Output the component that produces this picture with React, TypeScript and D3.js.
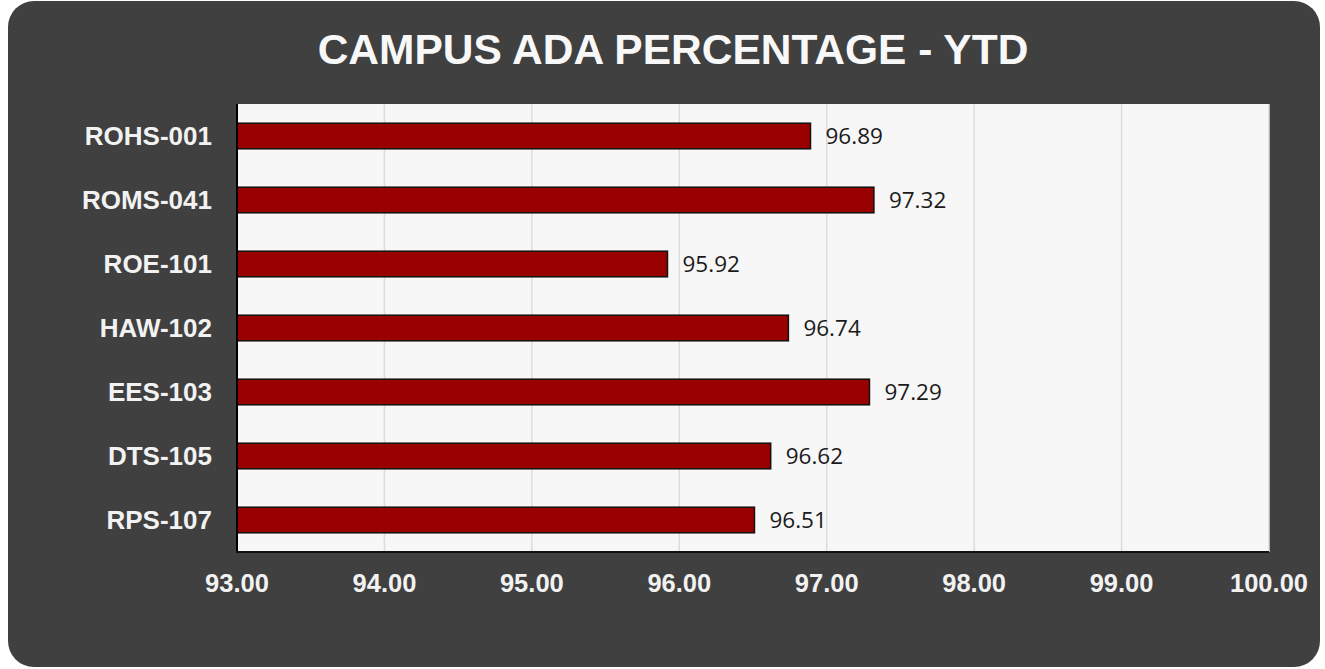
import React, { useRef, useEffect } from 'react';
import * as d3 from 'd3';

const campuses = ['ROHS-001', 'ROMS-041', 'ROE-101', 'HAW-102', 'EES-103', 'DTS-105', 'RPS-107'];
const adaValues = [96.89, 97.32, 95.92, 96.74, 97.29, 96.62, 96.51];
const xTicks = [93, 94, 95, 96, 97, 98, 99, 100];

const App = () => {
  const svgRef = useRef<SVGSVGElement>(null);

  useEffect(() => {
    const W = 1325;
    const H = 669;
    const plot = { left: 237, right: 1269, top: 104, bottom: 552 };

    const svg = d3.select(svgRef.current);
    svg.selectAll('*').remove();
    svg.attr('width', W).attr('height', H);

    // card background
    svg.append('rect')
      .attr('x', 8)
      .attr('y', 1)
      .attr('width', 1312)
      .attr('height', 666)
      .attr('rx', 26)
      .attr('fill', '#404040');

    // title
    svg.append('text')
      .attr('x', 673)
      .attr('y', 64)
      .attr('text-anchor', 'middle')
      .style('font-family', '"Liberation Sans", Arial, sans-serif')
      .style('font-size', '42.5px')
      .style('font-weight', 'bold')
      .style('fill', '#f8f8f8')
      .text('CAMPUS ADA PERCENTAGE - YTD');

    const x = d3.scaleLinear()
      .domain([93, 100])
      .range([plot.left, plot.right]);

    const y = d3.scaleBand()
      .domain(campuses)
      .range([plot.top, plot.bottom])
      .paddingInner(0.6)
      .paddingOuter(0.3);

    // plot area
    svg.append('rect')
      .attr('x', plot.left)
      .attr('y', plot.top)
      .attr('width', plot.right - plot.left)
      .attr('height', plot.bottom - plot.top)
      .attr('fill', '#f7f7f7');

    // gridlines
    svg.append('g')
      .selectAll('line')
      .data(xTicks.slice(1))
      .enter()
      .append('line')
      .attr('x1', d => x(d))
      .attr('x2', d => x(d))
      .attr('y1', plot.top)
      .attr('y2', plot.bottom)
      .attr('stroke', '#dcdcdc')
      .attr('stroke-width', 1.5);

    // bars
    svg.append('g')
      .selectAll('rect')
      .data(campuses)
      .enter()
      .append('rect')
      .attr('x', x(93))
      .attr('y', d => y(d)!)
      .attr('width', (d, i) => x(adaValues[i]) - x(93))
      .attr('height', y.bandwidth())
      .attr('fill', '#990000')
      .attr('stroke', '#111')
      .attr('stroke-width', 1.5);

    // value labels
    svg.append('g')
      .selectAll('text')
      .data(campuses)
      .enter()
      .append('text')
      .attr('x', (d, i) => x(adaValues[i]) + 15)
      .attr('y', d => y(d)! + y.bandwidth() / 2)
      .attr('dy', '0.36em')
      .style('font-family', '"Open Sans", sans-serif')
      .style('font-size', '22.5px')
      .style('fill', '#1a1a1a')
      .text((d, i) => adaValues[i].toFixed(2));

    // axis lines
    svg.append('line')
      .attr('x1', plot.left)
      .attr('x2', plot.left)
      .attr('y1', plot.top)
      .attr('y2', plot.bottom)
      .attr('stroke', '#000')
      .attr('stroke-width', 2);

    svg.append('line')
      .attr('x1', plot.left - 1)
      .attr('x2', plot.right)
      .attr('y1', plot.bottom)
      .attr('y2', plot.bottom)
      .attr('stroke', '#111')
      .attr('stroke-width', 2);

    // category labels
    svg.append('g')
      .selectAll('text')
      .data(campuses)
      .enter()
      .append('text')
      .attr('x', plot.left - 25)
      .attr('y', d => y(d)! + y.bandwidth() / 2)
      .attr('dy', '0.36em')
      .attr('text-anchor', 'end')
      .style('font-family', '"Liberation Sans", Arial, sans-serif')
      .style('font-size', '26px')
      .style('font-weight', 'bold')
      .style('fill', '#f2f2f2')
      .text(d => d);

    // x tick labels
    svg.append('g')
      .selectAll('text')
      .data(xTicks)
      .enter()
      .append('text')
      .attr('x', d => x(d))
      .attr('y', 592)
      .attr('text-anchor', 'middle')
      .style('font-family', '"Liberation Sans", Arial, sans-serif')
      .style('font-size', '25.5px')
      .style('font-weight', 'bold')
      .style('fill', '#f2f2f2')
      .text(d => d.toFixed(2));
  }, []);

  return <svg ref={svgRef} style={{ position: 'absolute', left: 0, top: 0 }}></svg>;
};

export default App;
